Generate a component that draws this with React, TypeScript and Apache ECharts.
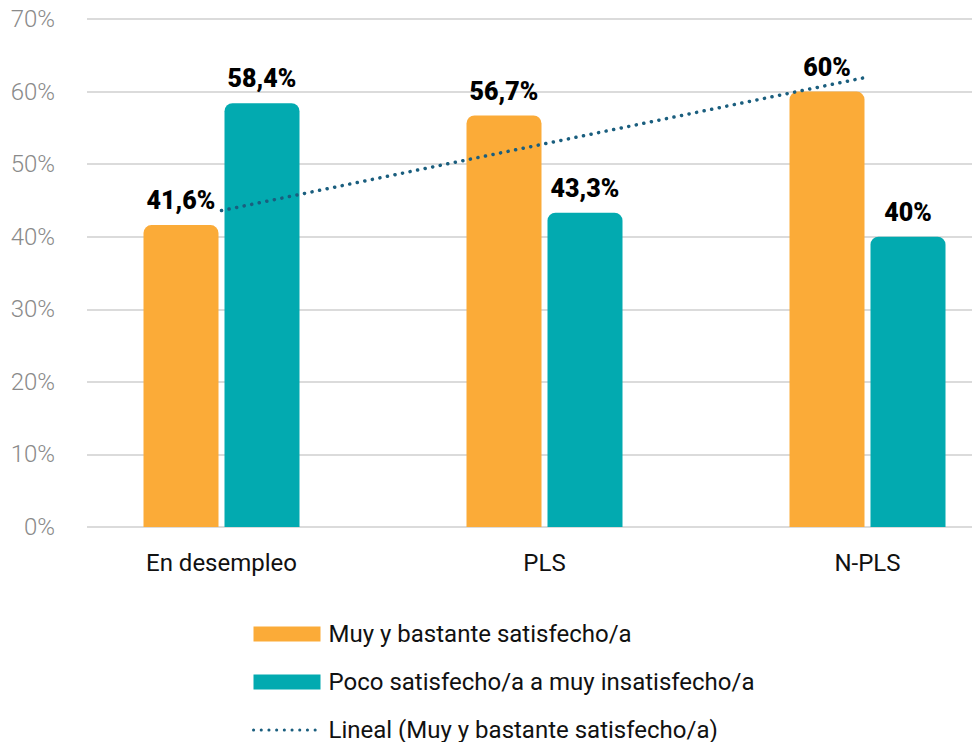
import React, { useEffect, useRef } from "react";
import * as echarts from "echarts";

const categories = ["En desempleo", "PLS", "N-PLS"];
const satisfied = [41.6, 56.7, 60];
const unsatisfied = [58.4, 43.3, 40];
// Linear trendline (start, middle, end)
const trend = [43.6, 52.8, 62.0];
const seriesNames = [
  "Muy y bastante satisfecho/a",
  "Poco satisfecho/a a muy insatisfecho/a",
  "Lineal (Muy y bastante satisfecho/a)",
];
const yTicks = [0, 10, 20, 30, 40, 50, 60, 70];

const fmt = (v: number) => String(v).replace(".", ",") + "%";

export default function App() {
  const ref = useRef<HTMLDivElement>(null);
  useEffect(() => {
    if (!ref.current) return;
    const chart = echarts.init(ref.current, null, { renderer: "svg" });
    const font = "Roboto, 'Noto Sans', sans-serif";
    const trendColor = "#1A5E7E";
    const dots = [0.1, 7.6];
    const labelStyle = {
      show: true,
      position: "top" as const,
      distance: 12,
      color: "#000",
      fontFamily: font,
      fontWeight: 900,
      fontSize: 25,
      formatter: (p: any) => fmt(p.value),
    };
    chart.setOption({
      animation: false,
      grid: [
        { left: 60, width: 969, top: 19, bottom: 215, outerBoundsMode: "none", containLabel: false },
        { left: 87, right: 0, top: 19, bottom: 215, outerBoundsMode: "none", containLabel: false },
      ],
      xAxis: [
        {
          type: "category",
          data: categories,
          gridIndex: 0,
          axisLine: { show: false },
          axisTick: { show: false },
          axisLabel: { color: "#111", fontFamily: font, fontSize: 24, margin: 24 },
        },
        { type: "value", gridIndex: 1, show: false },
      ],
      yAxis: [
        { type: "value", gridIndex: 0, min: 0, max: 70, interval: 10, show: false },
        {
          type: "value",
          gridIndex: 1,
          min: yTicks[0],
          max: yTicks[yTicks.length - 1],
          interval: 10,
          axisLine: { show: false },
          axisTick: { show: false },
          axisLabel: {
            color: "#8a8a8a",
            fontFamily: font,
            fontWeight: 300,
            fontSize: 24,
            margin: 32,
            formatter: (v: number) => v + "%",
          },
          splitLine: { lineStyle: { color: "#cfcfcf", width: 1.5 } },
        },
      ],
      legend: {
        orient: "vertical",
        left: 252,
        top: 622,
        height: 140,
        padding: 0,
        itemWidth: 67,
        itemHeight: 15,
        itemGap: 24,
        data: [
          { name: seriesNames[0], icon: "rect" },
          { name: seriesNames[1], icon: "rect" },
          {
            name: seriesNames[2],
            itemStyle: { color: "rgba(0,0,0,0)", borderColor: "rgba(0,0,0,0)", borderWidth: 0 },
            lineStyle: { color: trendColor, width: 3, type: dots, cap: "round" },
          },
        ],
        textStyle: { color: "#111", fontFamily: font, fontSize: 24, padding: [0, 0, 0, 3] },
      },
      series: [
        {
          name: seriesNames[0],
          type: "bar",
          data: satisfied,
          barWidth: 75,
          barGap: "8%",
          itemStyle: { color: "#FBAB38", borderRadius: [8, 8, 0, 0] },
          label: labelStyle,
        },
        {
          name: seriesNames[1],
          type: "bar",
          data: unsatisfied,
          barWidth: 75,
          barGap: "8%",
          itemStyle: { color: "#02AAB0", borderRadius: [8, 8, 0, 0] },
          label: labelStyle,
        },
        {
          name: seriesNames[2],
          type: "line",
          data: trend,
          symbol: "none",
          z: 5,
          itemStyle: { color: trendColor },
          lineStyle: { color: trendColor, width: 3.5, type: dots, cap: "round" },
        },
      ],
    });
    return () => chart.dispose();
  }, []);
  return (
    <div
      ref={ref}
      style={{ width: 972, height: 742, position: "absolute", left: 0, top: 0 }}
    />
  );
}
